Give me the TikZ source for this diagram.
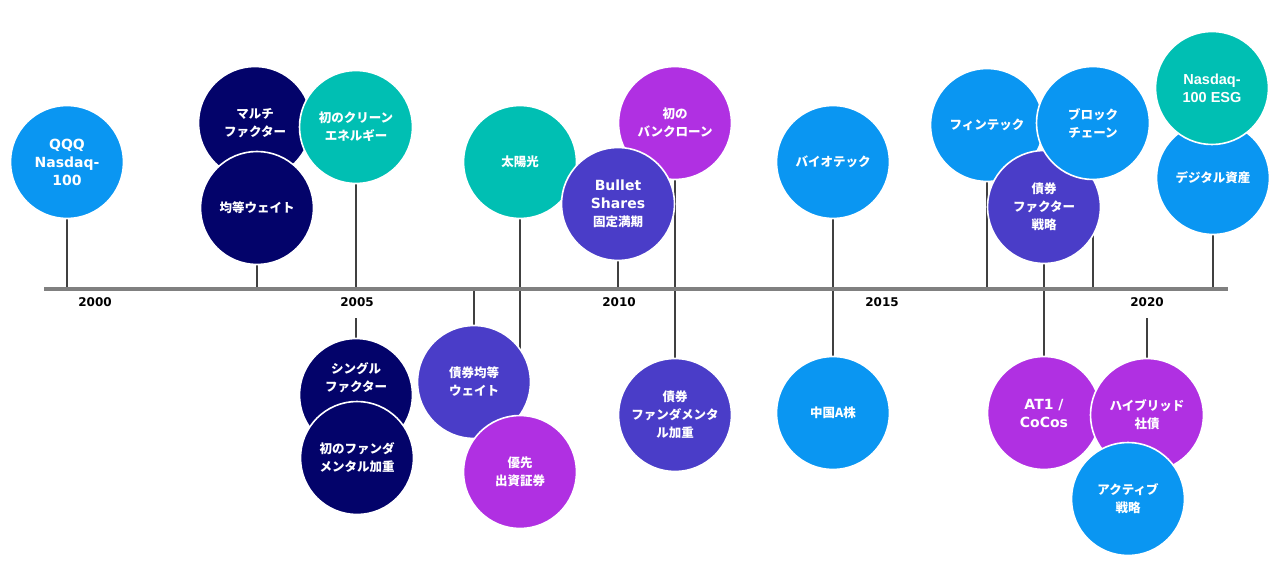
\documentclass[tikz,border=0pt]{standalone}
\usepackage{fontspec}
\setmainfont{DejaVu Sans}
\newfontfamily\jp{Noto Sans CJK JP}
\newfontfamily\arl{Liberation Sans}
\pgfdeclarelayer{bg}
\pgfdeclarelayer{paper}
\pgfsetlayers{paper,bg,main}
\definecolor{lb}{HTML}{0A96F2}
\definecolor{navy}{HTML}{03036A}
\definecolor{teal}{HTML}{00BFB3}
\definecolor{indigo}{HTML}{4A3DC8}
\definecolor{purp}{HTML}{B030E2}
\definecolor{stemc}{HTML}{404040}
\definecolor{tlgray}{HTML}{808080}
\begin{document}
\begin{tikzpicture}[x=1pt,y=-1pt,
  bub/.style={circle, minimum size=113pt, inner sep=0pt, draw=white, line width=1.6pt,
    text=white, align=center, font=\bfseries\fontsize{14}{18}\selectfont},
  jpn/.style={font=\jp\bfseries\fontsize{12.5}{18}\selectfont},
  arn/.style={font=\arl\bfseries\fontsize{14.5}{18}\selectfont},
  cLB/.style={bub, fill=lb},
  cNV/.style={bub, fill=navy},
  cTL/.style={bub, fill=teal},
  cIN/.style={bub, fill=indigo},
  cPU/.style={bub, fill=purp},
  stemline/.style={draw=stemc, line width=1.3pt},
  tline/.style={draw=tlgray, line width=4pt},
  yr/.style={font=\bfseries\fontsize{12}{14}\selectfont, text=black, inner sep=0pt}]
\useasboundingbox (0,0) rectangle (1280,580);
\begin{pgfonlayer}{paper}
\fill[white] (0,0) rectangle (1280,580);
\end{pgfonlayer}

\coordinate (tl0) at (44,289);
\coordinate (tl1) at (1228,289);

% circles (upper)
\node[cLB] (qqq) at (67,162) {QQQ\\Nasdaq-\\100};
\node[cNV,jpn] (multi) at (255,123) {マルチ\\ファクター};
\node[cNV,jpn] (equal) at (257,208) {均等ウェイト};
\node[cTL,jpn] (clean) at (356,127) {初のクリーン\\エネルギー};
\node[cTL,jpn] (solar) at (520,162) {太陽光};
\node[cPU,jpn] (bank) at (675,123) {初の\\バンクローン};
\node[cIN] (bullet) at (618,204) {Bullet\\Shares\\{\jp\fontsize{12.5}{18}\selectfont 固定満期}};
\node[cLB,jpn] (bio) at (833,162) {バイオテック};
\node[cLB,jpn] (fintech) at (987,125) {フィンテック};
\node[cIN,jpn] (bondfac) at (1044,207) {債券\\ファクター\\戦略};
\node[cLB,jpn] (block) at (1093,123) {ブロック\\チェーン};
\node[cLB,jpn] (digital) at (1213,178) {デジタル資産};
\node[cTL,arn] (esg) at (1212,88) {Nasdaq-\\100 ESG};
% circles (lower)
\node[cNV,jpn] (single) at (356,395) {シングル\\ファクター\\[18pt]};
\node[cNV,jpn] (fund) at (357,458) {初のファンダ\\メンタル加重};
\node[cIN,jpn] (bondeq) at (474,382) {債券均等\\ウェイト};
\node[cPU,jpn] (pref) at (520,472) {優先\\出資証券};
\node[cIN,jpn] (bondfund) at (675,415) {債券\\ファンダメンタ\\ル加重};
\node[cLB,jpn] (china) at (833,413) {中国A株};
\node[cPU] (at1) at (1044,413) {AT1 /\\CoCos};
\node[cPU,jpn] (hybrid) at (1147,415) {ハイブリッド\\社債};
\node[cLB,jpn] (active) at (1128,499) {アクティブ\\戦略};

% year labels
\node[yr] (y2000) at (95,302) {2000};
\node[yr] (y2005) at (357,302) {2005};
\node[yr] (y2010) at (619,302) {2010};
\node[yr] (y2015) at (882,302) {2015};
\node[yr] (y2020) at (1147,302) {2020};

\coordinate (s2005) at (356,318);
\coordinate (s2020) at (1147,318);

\begin{pgfonlayer}{bg}
  \draw[stemline] (qqq.center) -- (qqq.center |- tl0);
  \draw[stemline] (equal.center) -- (equal.center |- tl0);
  \draw[stemline] (clean.center) -- (clean.center |- tl0);
  \draw[stemline] (solar.center) -- (pref.center);
  \draw[stemline] (bondeq.center) -- (bondeq.center |- tl0);
  \draw[stemline] (bullet.center) -- (bullet.center |- tl0);
  \draw[stemline] (bank.center) -- (bondfund.center);
  \draw[stemline] (bio.center) -- (china.center);
  \draw[stemline] (fintech.center) -- (fintech.center |- tl0);
  \draw[stemline] (bondfac.center) -- (at1.center);
  \draw[stemline] (block.center) -- (block.center |- tl0);
  \draw[stemline] (digital.center) -- (digital.center |- tl0);
  \draw[stemline] (s2005) -- (single.center);
  \draw[stemline] (s2020) -- (hybrid.center);
  \draw[tline] (tl0) -- (tl1);
\end{pgfonlayer}
\end{tikzpicture}
\end{document}
